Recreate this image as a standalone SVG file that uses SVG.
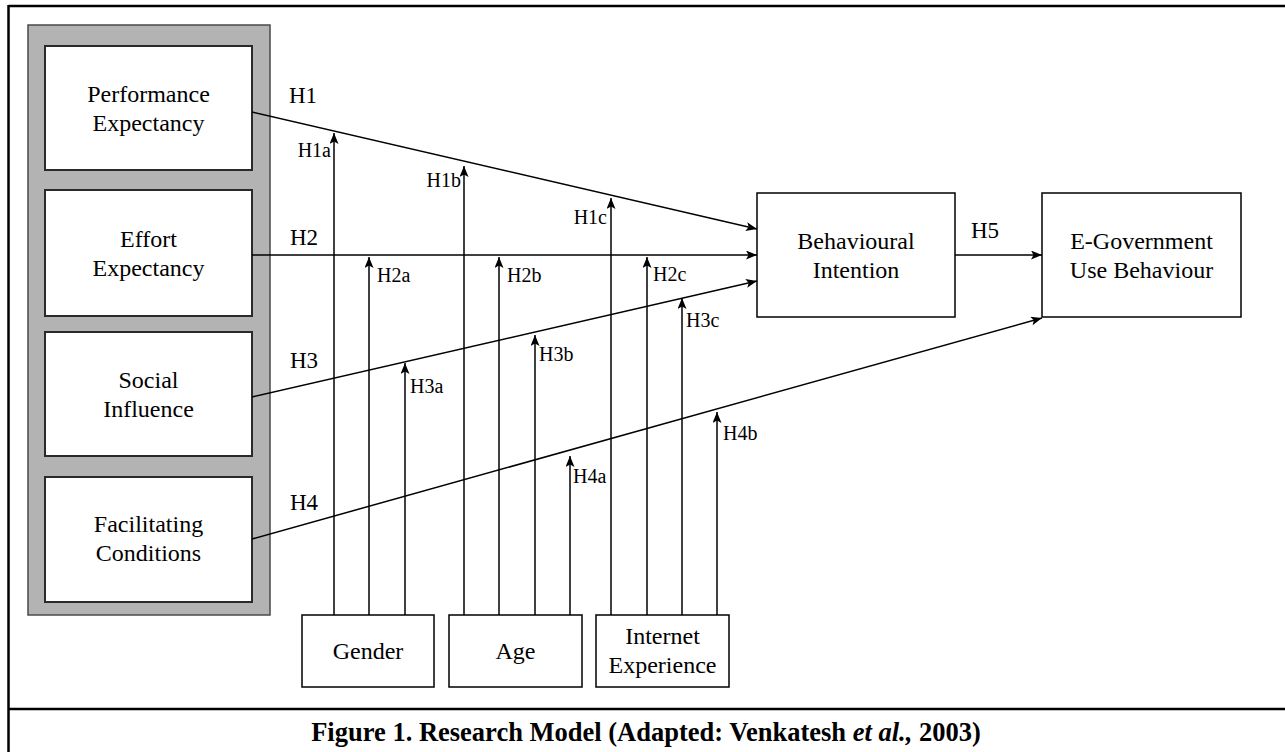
<svg xmlns="http://www.w3.org/2000/svg" width="1285" height="752" viewBox="0 0 1285 752">
<defs>
<marker id="ah" markerUnits="userSpaceOnUse" markerWidth="12" markerHeight="10" refX="11" refY="4.5" orient="auto">
<path d="M0,0 L11,4.5 L0,9 L2.5,4.5 z" fill="#000"/>
</marker>
</defs>
<style>
.t{font-family:"Liberation Serif","Times New Roman",serif;font-size:24px;fill:#000;text-anchor:middle}
.h{font-family:"Liberation Serif","Times New Roman",serif;font-size:23px;fill:#000}
.s{font-family:"Liberation Serif","Times New Roman",serif;font-size:20px;fill:#000}
.e{text-anchor:end}
.box{fill:#fff;stroke:#000;stroke-width:1.5}
.ibox{fill:#fff;stroke:#2a2a2a;stroke-width:2}
.ln{stroke:#000;stroke-width:1.5;fill:none}
.ar{stroke:#000;stroke-width:1.5;fill:none;marker-end:url(#ah)}
</style>
<rect x="0" y="0" width="1285" height="752" fill="#fff"/>
<g id="frame">
<line x1="8.5" y1="6" x2="1285" y2="6" stroke="#000" stroke-width="2.5"/>
<line x1="8.5" y1="5" x2="8.5" y2="752" stroke="#000" stroke-width="2.5"/>
<line x1="8.5" y1="709" x2="1285" y2="709" stroke="#000" stroke-width="2.5"/>
</g>
<g id="panel">
<rect x="28" y="25" width="242" height="590" fill="#b3b3b3" stroke="#4a4a4a" stroke-width="1.5"/>
</g>
<g id="performance-expectancy">
<rect class="ibox" x="45" y="46" width="207" height="124"/>
<text class="t" x="148.5" y="102">Performance</text>
<text class="t" x="148.5" y="131">Expectancy</text>
</g>
<g id="effort-expectancy">
<rect class="ibox" x="45" y="190" width="207" height="126"/>
<text class="t" x="148.5" y="247">Effort</text>
<text class="t" x="148.5" y="276">Expectancy</text>
</g>
<g id="social-influence">
<rect class="ibox" x="45" y="332" width="207" height="124"/>
<text class="t" x="148.5" y="388">Social</text>
<text class="t" x="148.5" y="417">Influence</text>
</g>
<g id="facilitating-conditions">
<rect class="ibox" x="45" y="477" width="207" height="125"/>
<text class="t" x="148.5" y="532">Facilitating</text>
<text class="t" x="148.5" y="561">Conditions</text>
</g>
<g id="behavioural-intention">
<rect class="box" x="757" y="193" width="198" height="124"/>
<text class="t" x="856" y="249">Behavioural</text>
<text class="t" x="856" y="278">Intention</text>
</g>
<g id="egov-use">
<rect class="box" x="1042" y="193" width="199" height="124"/>
<text class="t" x="1141.5" y="249">E-Government</text>
<text class="t" x="1141.5" y="278">Use Behaviour</text>
</g>
<g id="gender">
<rect class="box" x="302" y="615" width="132" height="72"/>
<text class="t" x="368" y="659">Gender</text>
</g>
<g id="age">
<rect class="box" x="449" y="615" width="133" height="72"/>
<text class="t" x="515.5" y="659">Age</text>
</g>
<g id="internet-experience">
<rect class="box" x="596" y="615" width="133" height="72"/>
<text class="t" x="662.5" y="644">Internet</text>
<text class="t" x="662.5" y="673">Experience</text>
</g>
<g id="connectors">
<line class="ar" x1="252" y1="112" x2="757" y2="229"/>
<line class="ar" x1="252" y1="255" x2="757" y2="255"/>
<line class="ar" x1="252" y1="397" x2="757" y2="281"/>
<line class="ar" x1="252" y1="539" x2="1042" y2="318"/>
<line class="ar" x1="955" y1="255" x2="1042" y2="255"/>
<line class="ar" x1="334" y1="615" x2="334" y2="133"/>
<line class="ar" x1="369" y1="615" x2="369" y2="257"/>
<line class="ar" x1="405" y1="615" x2="405" y2="363"/>
<line class="ar" x1="464" y1="615" x2="464" y2="166"/>
<line class="ar" x1="499" y1="615" x2="499" y2="257"/>
<line class="ar" x1="535" y1="615" x2="535" y2="335"/>
<line class="ar" x1="570" y1="615" x2="570" y2="456"/>
<line class="ar" x1="611" y1="615" x2="611" y2="198"/>
<line class="ar" x1="647" y1="615" x2="647" y2="257"/>
<line class="ar" x1="682" y1="615" x2="682" y2="298"/>
<line class="ar" x1="717" y1="615" x2="717" y2="412"/>
</g>
<g id="labels">
<text class="h" x="289" y="103">H1</text>
<text class="h" x="290" y="245">H2</text>
<text class="h" x="290" y="368">H3</text>
<text class="h" x="290" y="510">H4</text>
<text class="h" x="971" y="238">H5</text>
<text class="s e" x="331" y="157">H1a</text>
<text class="s e" x="461" y="187">H1b</text>
<text class="s e" x="607" y="224">H1c</text>
<text class="s" x="377" y="282">H2a</text>
<text class="s" x="507" y="282">H2b</text>
<text class="s" x="653" y="281">H2c</text>
<text class="s" x="410" y="393">H3a</text>
<text class="s" x="539" y="361">H3b</text>
<text class="s" x="686" y="327">H3c</text>
<text class="s" x="573" y="483">H4a</text>
<text class="s" x="723" y="440">H4b</text>
</g>
<g id="caption">
<text x="646" y="741" style="font-family:'Liberation Serif','Times New Roman',serif;font-size:26.5px;font-weight:bold;text-anchor:middle">Figure 1. Research Model (Adapted: Venkatesh <tspan font-style="italic">et al.,</tspan> 2003)</text>
</g>
</svg>
